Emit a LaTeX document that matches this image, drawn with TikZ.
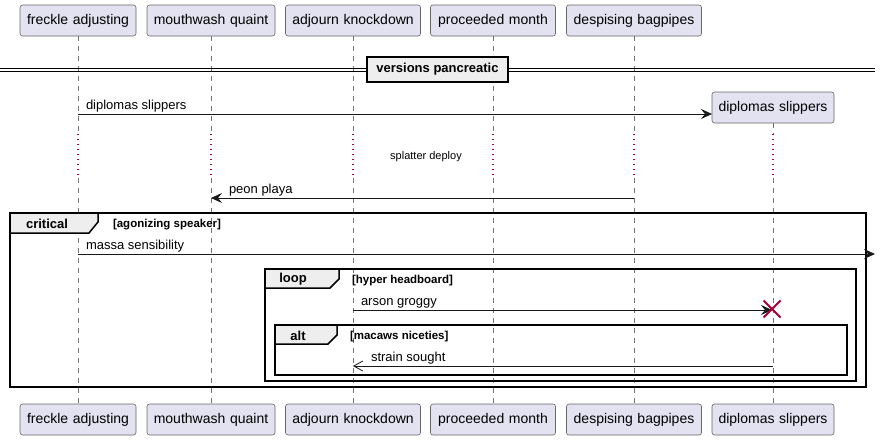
\documentclass[tikz,border=0pt]{standalone}
\usepackage{fontspec}
\setmainfont{Liberation Sans}
\usetikzlibrary{arrows.meta,shapes.misc}
\definecolor{partfill}{HTML}{E2E2F0}
\definecolor{framefill}{HTML}{EEEEEE}
\definecolor{delayred}{HTML}{A80036}
\begin{document}
\begin{tikzpicture}[x=1pt,y=-1pt,
  every node/.style={inner sep=0pt, outer sep=0pt},
  participant/.style={draw=black!60, fill=partfill, rounded corners=2.5pt, line width=0.6pt,
    minimum height=31pt, text width=#1, align=center, font=\fontsize{14}{16}\selectfont},
  lifeline/.style={draw=black!55, line width=0.6pt, dash pattern=on 5pt off 5pt},
  delayline/.style={draw=delayred, line width=1.3pt, dash pattern=on 1.3pt off 3.7pt},
  msg/.style={draw=black!90, line width=0.8pt},
  filledhead/.style={-{Stealth[length=11pt,width=10pt,inset=4pt]}},
  openhead/.style={-{Straight Barb[length=9pt,width=10pt,line width=0.8pt]}},
  msglabel/.style={anchor=base west, font=\fontsize{13}{15}\selectfont},
  frameline/.style={draw=black, line width=1.5pt},
  tabshape/.style={fill=framefill, draw=black, line width=1.5pt, line join=miter},
  tablabel/.style={font=\bfseries\fontsize{13}{15}\selectfont},
  guard/.style={anchor=base west, font=\bfseries\fontsize{11.5}{13}\selectfont},
  divider/.style={draw=black, fill=framefill, line width=1.5pt, minimum width=141pt,
    minimum height=25pt, font=\bfseries\fontsize{13}{15}\selectfont},
  destroy/.style={cross out, draw=delayred, line width=1.8pt, minimum size=17pt}
]
\useasboundingbox (0,0) rectangle (881,440);

% participants (top)
\node[participant=116pt] (t1) at (78,20.5) {freckle adjusting};
\node[participant=128pt] (t2) at (211,20.5) {mouthwash quaint};
\node[participant=135pt] (t3) at (353,20.5) {adjourn knockdown};
\node[participant=125pt] (t4) at (493,20.5) {proceeded month};
\node[participant=135pt] (t5) at (634,20.5) {despising bagpipes};
% participants (bottom)
\node[participant=116pt] (b1) at (78,419.5) {freckle adjusting};
\node[participant=128pt] (b2) at (211,419.5) {mouthwash quaint};
\node[participant=135pt] (b3) at (353,419.5) {adjourn knockdown};
\node[participant=125pt] (b4) at (493,419.5) {proceeded month};
\node[participant=135pt] (b5) at (634,419.5) {despising bagpipes};
\node[participant=122pt] (b6) at (773,419.5) {diplomas slippers};
% created participant
\node[participant=122pt] (f) at (773,107.5) {diplomas slippers};

% delay limits
\coordinate (d1) at (0,134);
\coordinate (d2) at (0,178);

% lifelines
\foreach \p in {1,...,5}{
  \draw[lifeline] (t\p.south) -- (t\p.south |- d1);
  \draw[delayline] (t\p.south |- d1) -- (t\p.south |- d2);
  \draw[lifeline] (t\p.south |- d2) -- (b\p.north);
}
\draw[lifeline] (f.south) -- (f.south |- d1);
\draw[delayline] (f.south |- d1) -- (f.south |- d2);
\draw[lifeline] (f.south |- d2) -- (b6.north);

% divider
\coordinate (dvl1) at (0,68);
\coordinate (dvr1) at (875,68);
\coordinate (dvl2) at (0,71);
\coordinate (dvr2) at (875,71);
\draw[line width=1pt] (dvl1) -- (dvr1);
\draw[line width=1pt] (dvl2) -- (dvr2);
\node[divider] (dv) at (437.5,69.5) {versions pancreatic};

% message 1 (create)
\coordinate (m1a) at (78,114);
\draw[msg, filledhead] (m1a) -- (f.west |- m1a);
\node[msglabel] (l1) at (86,109) {diplomas slippers};

% delay text
\node[font=\fontsize{11}{13}\selectfont] (dl) at (426,157) {splatter deploy};

% message 2
\coordinate (m2a) at (634,198);
\coordinate (m2b) at (211,198);
\draw[msg, filledhead] (m2a) -- (m2b);
\node[msglabel] (l2) at (229,193) {peon playa};

% critical frame
\draw[frameline] (10,213) rectangle (866,387);
\draw[tabshape] (10,213) -- (98,213) -- (98,222) -- (89,233) -- (10,233) -- cycle;
\node[tablabel] (crit) at (47,223.5) {critical};
\node[guard] (g1) at (113,227) {[agonizing speaker]};

% message 3
\coordinate (m3a) at (78,254);
\coordinate (m3b) at (875,254);
\draw[msg, filledhead] (m3a) -- (m3b);
\node[msglabel] (l3) at (86,249) {massa sensibility};

% loop frame
\draw[frameline] (265,269) rectangle (856,381);
\draw[tabshape] (265,269) -- (339,269) -- (339,279) -- (330,288) -- (265,288) -- cycle;
\node[tablabel] (lp) at (293,279.5) {loop};
\node[guard] (g2) at (352,283) {[hyper headboard]};

% message 4 (destroy)
\coordinate (m4a) at (353,310);
\coordinate (m4b) at (772,310);
\draw[msg, filledhead] (m4a) -- (m4b);
\node[destroy] (xd) at (772,309) {};
\node[msglabel] (l4) at (361,305) {arson groggy};

% alt frame
\draw[frameline] (275,325) rectangle (847,375);
\draw[tabshape] (275,325) -- (337,325) -- (337,335) -- (328,344) -- (275,344) -- cycle;
\node[tablabel] (al) at (298,335.5) {alt};
\node[guard] (g3) at (350,339) {[macaws niceties]};

% message 5
\coordinate (m5a) at (773,366);
\coordinate (m5b) at (353,366);
\draw[msg, openhead] (m5a) -- (m5b);
\node[msglabel] (l5) at (371,361) {strain sought};
\end{tikzpicture}
\end{document}
